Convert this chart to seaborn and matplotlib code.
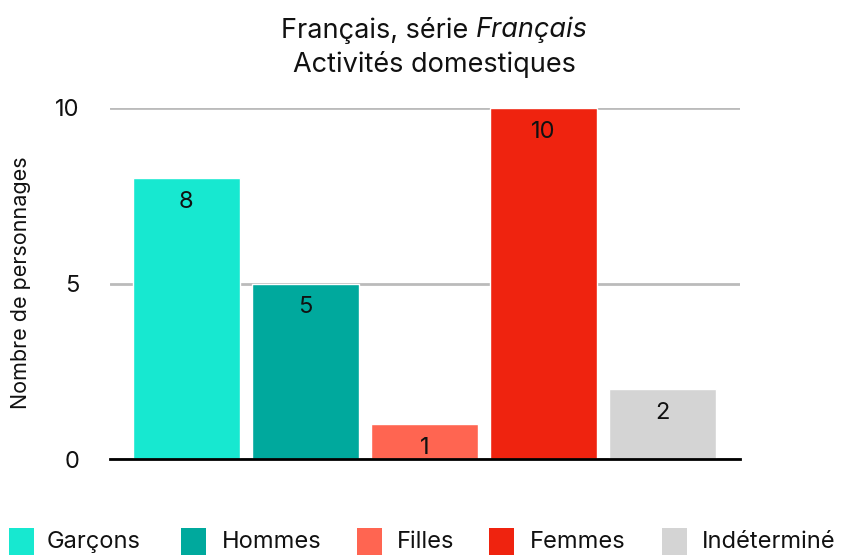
import matplotlib
matplotlib.use("Agg")
import matplotlib.pyplot as plt
import seaborn as sns
import pandas as pd
from matplotlib.patches import Rectangle

# data
categories = ["Garçons", "Hommes", "Filles", "Femmes", "Indéterminé"]
counts = [8, 5, 1, 10, 2]
colors = ["#17E8D0", "#00A99D", "#FF6551", "#EF230F", "#D4D4D4"]

sns.set_style("white")
plt.rcParams["font.family"] = ["Inter", "DejaVu Sans"]

df = pd.DataFrame({"cat": categories, "n": counts})

W, H = 843, 555
fig = plt.figure(figsize=(W / 100, H / 100), dpi=100)
ax = fig.add_axes([110 / W, 1 - 459 / H, 630 / W, (459 - 108) / H])

sns.barplot(data=df, x="cat", y="n", hue="cat", palette=colors,
            order=categories, hue_order=categories, dodge=False,
            width=0.9, saturation=1, legend=False, ax=ax)

ax.set_xlim(-0.64, 4.65)
ax.set_ylim(0, 10)
ax.set_yticks([0, 5, 10])
ax.set_xticks([])
ax.set_xlabel("")
ax.set_ylabel("")
ax.tick_params(axis="y", length=0, labelsize=17, pad=22, labelcolor="#111111")
ax.yaxis.grid(True, color="#BBBBBB", linewidth=2)
ax.set_axisbelow(True)
for s in ["top", "right", "left"]:
    ax.spines[s].set_visible(False)
ax.spines["bottom"].set_color("black")
ax.spines["bottom"].set_linewidth(2)

fig.text(21 / W, 1 - 283 / H, "Nombre de personnages", rotation=90,
         fontsize=15.5, ha="center", va="center", color="#111111")

for i, v in enumerate(counts):
    ax.text(i, v - 0.68, str(v), ha="center", va="center", fontsize=17, color="#111111")

# title, second word in italics
t1 = fig.text(0, 1 - 30 / H, "Français, série ", fontsize=19.5, ha="left", va="center", color="#111111")
t2 = fig.text(0, 1 - 30 / H, "Français", fontsize=19.5, style="italic", ha="left", va="center", color="#111111")
fig.canvas.draw()
r = fig.canvas.get_renderer()
w1 = t1.get_window_extent(r).width
w2 = t2.get_window_extent(r).width
x0 = 434 - (w1 + w2) / 2
t1.set_x(x0 / W)
t2.set_x((x0 + w1) / W)
fig.text(434 / W, 1 - 65 / H, "Activités domestiques", fontsize=19.5, ha="center", va="center", color="#111111")

# legend placed along the bottom edge
handle_x = [9, 181, 357, 489, 662]
text_x = [47, 222, 397, 530, 702]
for hx, tx, c, lab in zip(handle_x, text_x, colors, categories):
    fig.add_artist(Rectangle((hx / W, 0), 25 / W, 27 / H, transform=fig.transFigure,
                             facecolor=c, edgecolor="none"))
    fig.text(tx / W, 1 - 542 / H, lab, fontsize=17, ha="left", va="center", color="#111111")

fig.savefig("out.png", dpi=100)
